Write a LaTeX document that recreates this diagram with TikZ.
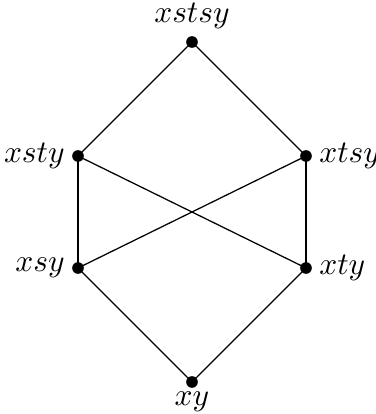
\documentclass[tikz,border=0pt]{standalone}
\begin{document}
\begin{tikzpicture}[x=0.318pt,y=-0.318pt,
  dot/.style={circle,fill=black,inner sep=0pt,minimum size=3.7pt},
  edge/.style={line width=0.4pt}]
\useasboundingbox (0,0) rectangle (376,414);
\node[dot,label={[inner sep=2pt]above:$xstsy$}] (top) at (192,42) {};
\node[dot,label={[inner sep=2pt]left:$xsty$}] (xsty) at (78,156) {};
\node[dot,label={[inner sep=2pt]right:$xtsy$}] (xtsy) at (306,156) {};
\node[dot,label={[inner sep=2pt]left:$xsy$}] (xsy) at (78,268) {};
\node[dot,label={[inner sep=2pt]right:$xty$}] (xty) at (306,268) {};
\node[dot,label={[inner sep=1pt]below:$xy$}] (xy) at (192,382) {};
\draw[edge] (top.center) -- (xsty.center);
\draw[edge] (top.center) -- (xtsy.center);
\draw[edge] (xsty.center) -- (xsy.center);
\draw[edge] (xtsy.center) -- (xty.center);
\draw[edge] (xsty.center) -- (xty.center);
\draw[edge] (xtsy.center) -- (xsy.center);
\draw[edge] (xsy.center) -- (xy.center);
\draw[edge] (xty.center) -- (xy.center);
\end{tikzpicture}
\end{document}
